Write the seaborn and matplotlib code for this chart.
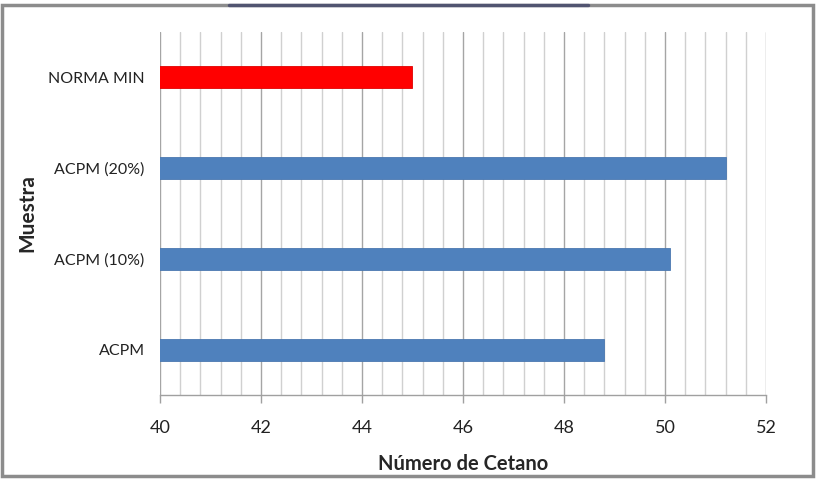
import matplotlib
matplotlib.use("Agg")
import matplotlib.pyplot as plt
from matplotlib.patches import Rectangle
from matplotlib.lines import Line2D
from matplotlib.ticker import MultipleLocator
import numpy as np
import pandas as pd
import seaborn as sns

# data
muestras = ["NORMA MIN", "ACPM (20%)", "ACPM (10%)", "ACPM"]
cetano = [45.0, 51.2, 50.1, 48.8]
colores = ["#FF0000", "#4F81BD", "#4F81BD", "#4F81BD"]
x_ticks = [40, 42, 44, 46, 48, 50, 52]

sns.set_theme(style="white")
plt.rcParams["font.family"] = ["Lato", "DejaVu Sans"]

df = pd.DataFrame({"Muestra": muestras, "Cetano": cetano})

fig = plt.figure(figsize=(8.17, 4.80), dpi=100)
ax = fig.add_axes([0.1958, 0.1771, 0.7418, 0.7562])

sns.barplot(data=df, x="Cetano", y="Muestra", hue="Muestra", palette=colores,
            order=muestras, hue_order=muestras, width=0.24, legend=False,
            saturation=1, edgecolor="#4A78B0", linewidth=0.6, ax=ax)
ax.patches[0].set_edgecolor("#E00000")

ax.set_xlim(40, 52)
ax.set_ylim(3.5, -0.5)
ax.xaxis.set_minor_locator(MultipleLocator(0.4))
ax.set_xticks(x_ticks)
ax.grid(True, which="minor", axis="x", color="#D0D0D0", linewidth=1)
ax.grid(True, which="major", axis="x", color="#A5A5A5", linewidth=1)
ax.set_axisbelow(True)

for s in ["top", "right", "left"]:
    ax.spines[s].set_visible(False)
ax.spines["bottom"].set_color("#A0A0A0")
ax.spines["bottom"].set_linewidth(1)

ax.tick_params(axis="x", which="major", bottom=True, length=6, width=1,
               color="#A0A0A0", labelsize=13, pad=12, labelcolor="#222222")
ax.tick_params(axis="x", which="minor", bottom=False)
ax.tick_params(axis="y", left=False, length=0, labelsize=11.5, pad=11,
               labelcolor="#222222")

ax.set_xlabel("Número de Cetano", fontsize=14.5, fontweight="bold", labelpad=13)
ax.set_ylabel("Muestra", fontsize=15, fontweight="bold", labelpad=8)

# outer frame of the picture
fig.patches.append(Rectangle((0.003, 0.008), 0.992, 0.982, transform=fig.transFigure,
                             fill=False, edgecolor="#8C8C8C", linewidth=2.5))
fig.lines.append(Line2D([0.28, 0.72], [0.99, 0.99], transform=fig.transFigure,
                        color="#2B2F5E", linewidth=2.5, alpha=0.6))

fig.savefig("out.png", dpi=100)
